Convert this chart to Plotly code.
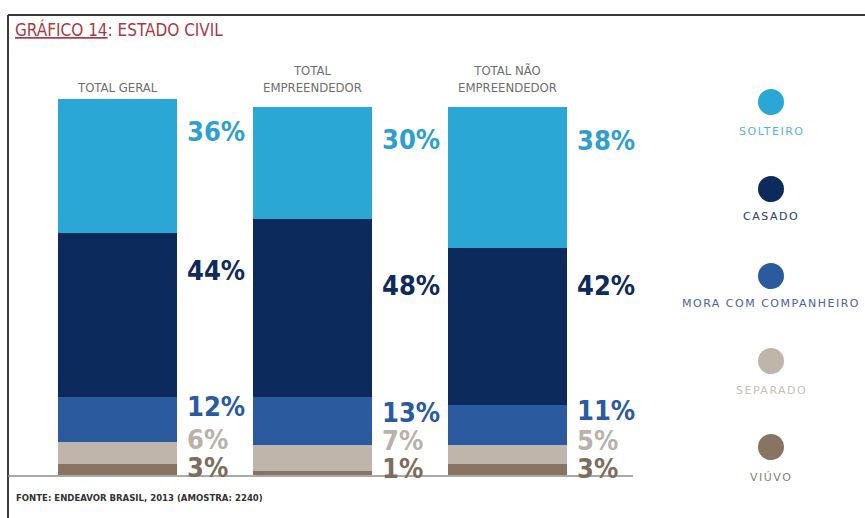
import plotly.graph_objects as go

# --- data -------------------------------------------------------------
GROUPS = ["TOTAL GERAL", "TOTAL<br>EMPREENDEDOR", "TOTAL NÃO<br>EMPREENDEDOR"]
SERIES = ["SOLTEIRO", "CASADO", "MORA COM COMPANHEIRO", "SEPARADO", "VIÚVO"]
solteiro = [36, 30, 38]
casado = [44, 48, 42]
mora_com_companheiro = [12, 13, 11]
separado = [6, 7, 5]
viuvo = [3, 1, 3]

VALUES = {
    "SOLTEIRO": solteiro,
    "CASADO": casado,
    "MORA COM COMPANHEIRO": mora_com_companheiro,
    "SEPARADO": separado,
    "VIÚVO": viuvo,
}

# --- styling ------------------------------------------------------------
W, H = 865, 518
COLORS = {
    "SOLTEIRO": "#2aa7d4",
    "CASADO": "#0c2a5c",
    "MORA COM COMPANHEIRO": "#2b5b9e",
    "SEPARADO": "#c0b5aa",
    "VIÚVO": "#877562",
}
LABEL_COLORS = {
    "SOLTEIRO": "#2e9fcf",
    "CASADO": "#0f2b5a",
    "MORA COM COMPANHEIRO": "#2a5aa0",
    "SEPARADO": "#b9b2ab",
    "VIÚVO": "#7e6d5c",
}
LEGEND_TEXT_COLORS = {
    "SOLTEIRO": "#58b3da",
    "CASADO": "#2a3b5e",
    "MORA COM COMPANHEIRO": "#4c6398",
    "SEPARADO": "#c6c0ba",
    "VIÚVO": "#8a7e74",
}
# vertical pixel centre of each percentage label, per bar
LABEL_PX = {
    "SOLTEIRO": [132, 139, 140],
    "CASADO": [270, 285, 285],
    "MORA COM COMPANHEIRO": [406, 412, 410],
    "SEPARADO": [439, 440, 440],
    "VIÚVO": [467, 468, 468],
}
LEGEND_Y = [102, 189, 276, 361, 447]
LEGEND_LABEL_Y = [132, 217, 303, 390, 477]
LEGEND_X = 771

COND = "DejaVu Sans Condensed, sans-serif"


def px(x):
    return x / W


def py(y):
    return 1 - y / H


x_pos = list(range(len(GROUPS)))

fig = go.Figure()
for name in reversed(SERIES):
    fig.add_trace(go.Bar(
        x=x_pos,
        y=VALUES[name],
        name=name,
        width=0.615,
        marker=dict(color=COLORS[name], line=dict(width=0)),
        hoverinfo="skip",
    ))

annotations = []

# percentage labels to the right of each bar
for name in SERIES:
    for i, v in enumerate(VALUES[name]):
        annotations.append(dict(
            x=i, xref="x", xanchor="left", xshift=68,
            y=py(LABEL_PX[name][i]), yref="paper", yanchor="middle",
            text=f"<b>{v}%</b>", showarrow=False,
            font=dict(family=COND, size=27, color=LABEL_COLORS[name]),
        ))

# column headers
for i, g in enumerate(GROUPS):
    annotations.append(dict(
        x=i, xref="x", xanchor="center",
        y=py(97), yref="paper", yanchor="bottom",
        text=g, showarrow=False, align="center",
        font=dict(family=COND, size=13, color="#6e6e6e"),
    ))

# legend labels
for k, name in enumerate(SERIES):
    annotations.append(dict(
        x=px(LEGEND_X), xref="paper", xanchor="center",
        y=py(LEGEND_LABEL_Y[k]), yref="paper", yanchor="middle",
        text=f'<span style="letter-spacing:1.5px">{name}</span>',
        showarrow=False,
        font=dict(family="DejaVu Sans, sans-serif", size=11,
                  color=LEGEND_TEXT_COLORS[name]),
    ))

# title
annotations.append(dict(
    x=px(13), xref="paper", xanchor="left",
    y=py(29), yref="paper", yanchor="middle",
    text="<u>GRÁFICO 14</u>: ESTADO CIVIL", showarrow=False,
    font=dict(family=COND, size=17, color="#a63a46"),
))

# source note
annotations.append(dict(
    x=px(14), xref="paper", xanchor="left",
    y=py(497), yref="paper", yanchor="middle",
    text="<b>FONTE: ENDEAVOR BRASIL, 2013 (AMOSTRA: 2240)</b>", showarrow=False,
    font=dict(family=COND, size=9.5, color="#333333"),
))

shapes = []
# frame lines
shapes.append(dict(type="line", xref="paper", yref="paper",
                   x0=px(8), x1=1, y0=py(15), y1=py(15),
                   line=dict(color="#3a3a3a", width=2)))
shapes.append(dict(type="line", xref="paper", yref="paper",
                   x0=px(8), x1=px(8), y0=py(15), y1=0,
                   line=dict(color="#3a3a3a", width=2)))
# baseline
shapes.append(dict(type="line", xref="paper", yref="paper",
                   x0=px(8), x1=px(633), y0=py(476), y1=py(476),
                   line=dict(color="#8c8c8c", width=1.5), layer="above"))
# legend markers
R = 13
for k, name in enumerate(SERIES):
    shapes.append(dict(type="circle", xref="paper", yref="paper",
                       x0=px(LEGEND_X - R), x1=px(LEGEND_X + R),
                       y0=py(LEGEND_Y[k] + R), y1=py(LEGEND_Y[k] - R),
                       fillcolor=COLORS[name], line=dict(width=0)))

PX_PER_UNIT = 3.72
Y_MAX = 110
y_top_px = 475 - Y_MAX * PX_PER_UNIT

fig.update_layout(
    width=W, height=H,
    margin=dict(l=0, r=0, t=0, b=0),
    paper_bgcolor="white", plot_bgcolor="white",
    barmode="stack", bargap=0,
    showlegend=False,
    xaxis=dict(domain=[px(19.5), px(604.5)], range=[-0.5, 2.5],
               visible=False, fixedrange=True),
    yaxis=dict(domain=[py(475), py(y_top_px)], range=[0, Y_MAX],
               visible=False, fixedrange=True),
    annotations=annotations,
    shapes=shapes,
)

fig.write_html("out.html")
